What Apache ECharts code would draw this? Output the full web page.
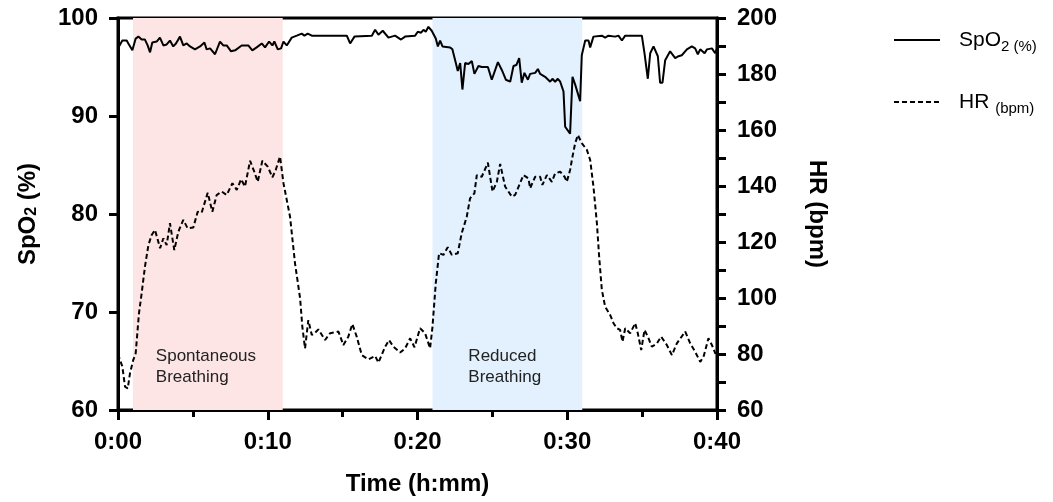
<!DOCTYPE html>
<html>
<head>
<meta charset="utf-8">
<script src="https://cdn.jsdelivr.net/npm/echarts@6/dist/echarts.min.js"></script>
<style>
html,body{margin:0;padding:0;background:#fff;}
#chart{width:1053px;height:502px;}
</style>
</head>
<body>
<div id="chart"></div>
<script>
// ---- Data (minutes since start) ----
var xTicks = [0, 10, 20, 30, 40];
var leftTicks = [60, 70, 80, 90, 100];
var rightTicks = [60, 80, 100, 120, 140, 160, 180, 200];

var phaseNames = ['Spontaneous\nBreathing', 'Reduced\nBreathing'];
var phaseStart = [1, 21];
var phaseEnd = [11, 31];

var spo2Time = [0.0,0.29,0.58,0.69,0.96,1.18,1.36,1.58,1.8,1.98,2.14,2.29,2.58,2.8,3.03,3.25,3.47,3.69,3.87,4.14,4.36,4.59,4.81,5.14,5.48,5.77,5.92,6.15,6.48,6.81,7.03,7.26,7.55,7.82,8.26,8.7,8.97,9.26,9.6,9.82,10.09,10.31,10.44,10.67,10.89,11.05,11.27,11.6,11.94,12.27,12.45,12.67,12.94,15.28,15.5,15.79,16.95,17.17,17.39,17.68,18.06,18.5,18.9,19.17,19.84,20.02,20.24,20.4,20.55,20.73,20.95,21.22,21.36,21.51,21.67,22.18,22.33,22.56,22.69,22.85,23.0,23.18,23.4,23.63,23.8,24.07,24.29,24.7,24.96,25.37,25.63,25.9,26.19,26.41,26.6,26.79,26.96,27.14,27.37,27.52,27.86,28.04,28.19,28.52,28.86,29.01,29.19,29.37,29.53,29.75,29.86,30.19,30.35,30.53,30.86,30.97,31.2,31.42,31.53,31.75,32.31,32.53,32.75,33.2,33.42,33.65,33.87,34.98,35.16,35.38,35.54,35.76,36.05,36.2,36.36,36.54,36.87,37.21,37.43,37.65,37.99,38.32,38.54,38.72,38.88,39.17,39.33,39.66,39.88,40.0];
var spo2Value = [96.9,97.7,97.7,97.4,96.7,97.9,98.1,97.8,97.8,97.2,96.5,97.5,97.6,98.0,97.2,97.3,97.7,97.1,97.4,98.1,97.2,97.4,97.1,96.8,97.1,97.5,96.8,96.9,96.3,97.6,97.2,97.2,96.6,96.7,97.2,97.2,96.7,97.0,97.4,97.0,97.6,97.2,97.6,96.8,96.9,97.6,97.2,98.0,98.2,98.4,98.2,98.4,98.2,98.2,97.4,98.1,98.2,98.8,98.3,98.7,98.0,98.2,97.8,98.1,98.2,98.6,98.5,98.8,98.6,99.1,98.7,97.9,97.1,97.7,97.1,97.0,96.8,95.4,94.6,95.4,92.7,95.4,95.3,95.6,94.3,95.1,95.0,95.0,93.7,95.5,94.7,93.7,93.5,95.1,95.2,95.9,93.4,94.4,93.7,94.3,94.4,94.8,94.3,94.0,93.5,93.8,93.5,93.8,93.5,92.5,88.9,88.2,94.0,93.2,91.5,96.2,97.7,97.7,97.0,98.1,98.2,98.0,98.2,98.1,98.2,97.7,98.2,98.2,96.4,93.8,96.4,97.1,96.1,93.4,93.4,95.7,96.6,95.9,96.1,96.2,96.8,97.1,96.9,96.3,96.8,96.4,96.8,96.9,96.4,96.9];

var hrTime = [0.0,0.29,0.47,0.65,0.8,1.02,1.18,1.4,1.58,1.8,2.03,2.25,2.47,2.81,3.03,3.25,3.47,3.76,4.03,4.36,4.65,5.03,5.32,5.59,5.99,6.3,6.59,6.93,7.26,7.64,7.93,8.22,8.48,8.82,9.1,9.33,9.64,10.0,10.31,10.53,10.82,11.05,11.49,11.82,12.16,12.31,12.49,12.71,12.94,13.16,13.38,13.83,14.16,14.72,15.05,15.38,15.65,15.94,16.28,16.72,17.17,17.39,17.84,18.1,18.39,18.84,19.17,19.51,19.8,20.17,20.51,20.84,21.0,21.22,21.44,21.73,22.02,22.29,22.69,22.95,23.29,23.51,23.8,23.96,24.29,24.7,25.01,25.3,25.52,25.85,26.3,26.52,26.85,27.07,27.41,27.52,27.86,28.19,28.34,28.64,28.97,29.19,29.53,29.82,29.97,30.19,30.35,30.53,30.71,30.97,31.31,31.53,31.75,31.98,32.13,32.31,32.53,32.87,33.09,33.31,33.53,33.69,33.87,34.2,34.54,34.71,34.94,35.16,35.43,35.65,35.99,36.27,36.65,36.99,37.32,37.88,38.21,38.54,38.88,39.1,39.43,39.66,39.9];
var hrValue = [80.0,75.5,68.3,67.7,73.1,77.9,80.2,94.5,101.7,111.2,118.9,122.5,124.3,117.8,121.3,118.9,126.7,117.1,123.7,127.9,124.9,125.2,130.8,130.5,137.6,130.8,136.8,138.0,136.8,141.0,138.6,142.4,139.8,149.0,145.1,141.5,149.0,146.9,143.1,145.7,150.5,141.0,129.0,112.4,99.9,89.7,82.0,92.1,86.8,87.6,88.8,85.0,87.4,88.0,83.2,86.2,90.7,86.2,79.6,78.1,79.3,76.9,82.6,85.0,82.6,80.5,82.0,85.6,82.4,89.2,87.4,82.0,89.7,105.2,116.0,115.4,118.1,115.4,116.0,123.1,129.0,135.6,137.4,143.9,143.3,148.3,138.0,141.5,147.9,139.8,136.2,136.8,141.0,143.9,142.7,139.2,143.3,143.3,140.4,143.9,141.5,144.5,145.1,143.3,141.5,145.7,150.5,155.3,158.2,155.3,152.9,149.3,139.8,126.7,114.8,102.9,96.9,93.9,91.0,89.2,88.6,84.4,89.2,87.4,91.0,87.4,81.4,88.6,85.6,82.6,83.8,86.2,83.2,79.6,83.8,88.0,83.8,80.8,77.2,79.0,85.6,83.2,80.0];

// ---- Build ----
function zip(a, b) { return a.map(function (t, i) { return [t, b[i]]; }); }

var FONT = '"Liberation Sans", Arial, sans-serif';

var areaColors = ['rgba(253,229,229,1)', 'rgba(227,240,253,1)'];
var areaLabelWidths = [104, 78];
var markAreaData = phaseNames.map(function (n, i) {
  var lines = n.split('\n');
  return [
    { name: n, xAxis: phaseStart[i], itemStyle: { color: areaColors[i] },
      label: { formatter: lines.map(function (l) { return '{a|' + l + '}'; }).join('\n'),
               rich: { a: { width: areaLabelWidths[i], align: 'left', fontSize: 17, lineHeight: 21, color: '#222', fontFamily: FONT } } } },
    { xAxis: phaseEnd[i] }
  ];
});

var chart = echarts.init(document.getElementById('chart'), null, { renderer: 'canvas' });

var axisLineStyle = { color: '#000', width: 3 };

var option = {
  animation: false,
  backgroundColor: '#fff',
  grid: { left: 118, right: 336, top: 18, bottom: 92, show: true, borderColor: '#000', borderWidth: 3, backgroundColor: 'transparent' },
  legend: {
    orient: 'vertical',
    left: 888,
    top: 21,
    itemGap: 34,
    itemWidth: 46,
    itemHeight: 14,
    data: ['SpO2', 'HR'],
    itemStyle: { opacity: 0 },
    formatter: function (name) {
      return name === 'SpO2' ? 'SpO{s|2 (%)}' : 'HR {s|(bpm)}';
    },
    textStyle: {
      fontFamily: FONT, fontSize: 21, color: '#000', lineHeight: 28,
      padding: [0, 0, 0, 14],
      rich: { s: { fontSize: 15, lineHeight: 15, verticalAlign: 'bottom', fontFamily: FONT, color: '#000' } }
    }
  },
  xAxis: {
    type: 'value',
    min: 0, max: 40, interval: 10,
    name: 'Time (h:mm)',
    nameLocation: 'middle',
    nameGap: 62,
    nameTextStyle: { fontFamily: FONT, fontWeight: 'bold', fontSize: 24, color: '#000' },
    axisLine: { show: true, lineStyle: axisLineStyle },
    axisTick: { show: true, length: 10, lineStyle: { color: '#000', width: 3 } },
    minorTick: { show: true, splitNumber: 2, length: 7, lineStyle: { color: '#000', width: 3 } },
    splitLine: { show: false },
    axisLabel: {
      margin: 20, fontFamily: FONT, fontWeight: 'bold', fontSize: 24, color: '#000',
      formatter: function (v) { return '0:' + (v < 10 ? '0' : '') + v; }
    }
  },
  yAxis: [
    {
      type: 'value', position: 'left',
      min: leftTicks[0], max: leftTicks[leftTicks.length - 1], interval: 10,
      name: 'SpO{sub|2} (%)',
      nameLocation: 'middle', nameRotate: 90, nameGap: 78,
      nameTextStyle: { fontFamily: FONT, fontWeight: 'bold', fontSize: 24, color: '#000',
        rich: { sub: { fontFamily: FONT, fontWeight: 'bold', fontSize: 16, verticalAlign: 'bottom', lineHeight: 16, color: '#000' } } },
      axisLine: { show: true, lineStyle: axisLineStyle },
      axisTick: { show: true, length: 9, lineStyle: { color: '#000', width: 3 } },
      splitLine: { show: false },
      axisLabel: { margin: 20, fontFamily: FONT, fontWeight: 'bold', fontSize: 24, color: '#000' }
    },
    {
      type: 'value', position: 'right',
      min: rightTicks[0], max: rightTicks[rightTicks.length - 1], interval: 20,
      name: 'HR (bpm)',
      nameLocation: 'middle', nameRotate: -90, nameGap: 88,
      nameTextStyle: { fontFamily: FONT, fontWeight: 'bold', fontSize: 24, color: '#000' },
      axisLine: { show: true, lineStyle: axisLineStyle },
      axisTick: { show: true, length: 9, lineStyle: { color: '#000', width: 3 } },
      minorTick: { show: true, splitNumber: 2, length: 9, lineStyle: { color: '#000', width: 3 } },
      splitLine: { show: false },
      axisLabel: { margin: 20, fontFamily: FONT, fontWeight: 'bold', fontSize: 24, color: '#000' }
    }
  ],
  series: [
    {
      name: 'phases', type: 'line', data: [], z: 1, silent: true,
      markArea: {
        silent: true,
        label: { show: true, position: 'insideBottom', distance: 22 },
        data: markAreaData
      }
    },
    {
      name: 'SpO2', type: 'line', yAxisIndex: 0, z: 5,
      data: zip(spo2Time, spo2Value),
      symbol: 'none', showSymbol: false,
      lineStyle: { color: '#000', width: 2 },
      itemStyle: { color: '#000' }
    },
    {
      name: 'HR', type: 'line', yAxisIndex: 1, z: 5,
      data: zip(hrTime, hrValue),
      symbol: 'none', showSymbol: false,
      lineStyle: { color: '#000', width: 2, type: [5, 3] },
      itemStyle: { color: '#000' }
    }
  ]
};
chart.setOption(option);
</script>
</body>
</html>
